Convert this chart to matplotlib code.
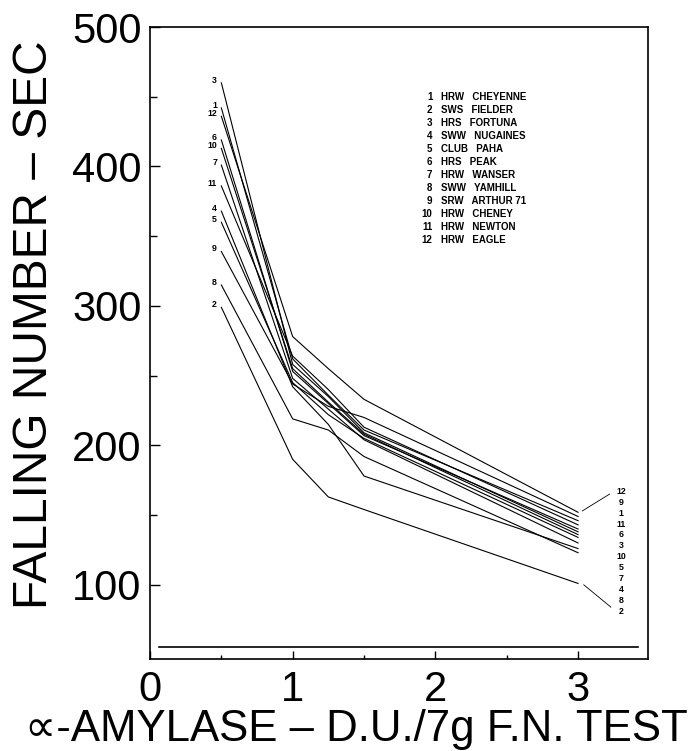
import matplotlib
matplotlib.use('Agg')
import matplotlib.pyplot as plt
from matplotlib.ticker import MultipleLocator

# amylase levels (D.U./7g) at which falling number was measured
amylase = [0.5, 1.0, 1.25, 1.5, 3.0]

numbers = [1, 2, 3, 4, 5, 6, 7, 8, 9, 10, 11, 12]
classes = ['HRW', 'SWS', 'HRS', 'SWW', 'CLUB', 'HRS', 'HRW', 'SWW', 'SRW',
           'HRW', 'HRW', 'HRW']
names = ['CHEYENNE', 'FIELDER', 'FORTUNA', 'NUGAINES', 'PAHA', 'PEAK',
         'WANSER', 'YAMHILL', 'ARTHUR 71', 'CHENEY', 'NEWTON', 'EAGLE']

# falling number (sec) per cultivar, one value per amylase level
fn1 = [442, 262, 236, 211, 146]
fn2 = [299, 190, 163, 154, 101]
fn3 = [460, 258, 235, 209, 138]
fn4 = [368, 242, 215, 178, 126]
fn5 = [360, 245, 222, 205, 134]
fn6 = [419, 253, 230, 207, 140]
fn7 = [401, 248, 226, 204, 130]
fn8 = [315, 219, 211, 192, 123]
fn9 = [339, 244, 228, 220, 149]
fn10 = [413, 255, 231, 208, 136]
fn11 = [386, 264, 240, 213, 143]
fn12 = [436, 278, 255, 233, 152]
series = [fn1, fn2, fn3, fn4, fn5, fn6, fn7, fn8, fn9, fn10, fn11, fn12]

# order of the labels at the right end, top to bottom
right_order = [12, 9, 1, 11, 6, 3, 10, 5, 7, 4, 8, 2]

fig = plt.figure(figsize=(6.90, 7.51), dpi=100)
ax = fig.add_axes([0.2174, 0.1225, 0.7217, 0.8415])

for fn in series:
    ax.plot(amylase, fn, color='black', lw=0.8)

lab_font = dict(family=['Liberation Sans', 'DejaVu Sans'], fontsize=7,
                fontweight='bold')
num_font = dict(lab_font, fontsize=6.3)

# cultivar numbers at the start of each curve
for n, fn in zip(numbers, series):
    ax.text(amylase[0] - 0.03, fn[0] + 2, str(n), ha='right', va='center',
            **num_font)

# cultivar numbers at the end of the curves
y_top, y_bot = 167, 81
step = (y_top - y_bot) / (len(right_order) - 1)
for k, n in enumerate(right_order):
    ax.text(3.3, y_top - k * step, str(n), ha='center', va='center',
            **num_font)
# leader lines for the first and last label
ax.plot([3.03, 3.22], [series[11][-1] + 1, y_top - 2], color='black', lw=0.6)
ax.plot([3.04, 3.23], [series[1][-1] - 1, y_bot + 3], color='black', lw=0.6)

# legend block
for k, (n, c, nm) in enumerate(zip(numbers, classes, names)):
    yy = 0.889 - k * 0.0206
    ax.text(0.567, yy, str(n), ha='right', va='center',
            transform=ax.transAxes, **lab_font)
    ax.text(0.585, yy, c + '   ' + nm, ha='left', va='center',
            transform=ax.transAxes, **lab_font)

# baseline near the bottom of the frame
ax.plot([0.06, 3.42], [55.5, 55.5], color='black', lw=1.2)

ax.set_xlim(0, 3.49)
ax.set_ylim(46.8, 500)
ax.xaxis.set_major_locator(MultipleLocator(1))
ax.xaxis.set_minor_locator(MultipleLocator(0.5))
ax.set_yticks([100, 200, 300, 400, 500])
ax.set_yticks([150, 250, 350, 450], minor=True)
ax.tick_params(which='both', direction='in', width=1.0)
ax.tick_params(axis='x', which='major', length=6, pad=8)
ax.tick_params(axis='x', which='minor', length=3)
ax.tick_params(axis='y', which='major', length=7, pad=6)
ax.tick_params(axis='y', which='minor', length=5)
for lab in ax.get_xticklabels() + ax.get_yticklabels():
    lab.set_fontfamily(['Liberation Sans', 'DejaVu Sans'])
    lab.set_fontsize(30)
for sp in ax.spines.values():
    sp.set_linewidth(1.2)

fig.text(0.05, 0.567, 'FALLING NUMBER \u2013 SEC', rotation=90,
         ha='center', va='center', fontsize=34.5,
         family=['Liberation Sans', 'DejaVu Sans'])
fig.text(0.997, 0.029, '\u221d-AMYLASE \u2013 D.U./7g F.N. TEST', ha='right',
         va='center', fontsize=31.5, family=['Liberation Sans', 'DejaVu Sans'])

fig.savefig('out.png', dpi=100)
